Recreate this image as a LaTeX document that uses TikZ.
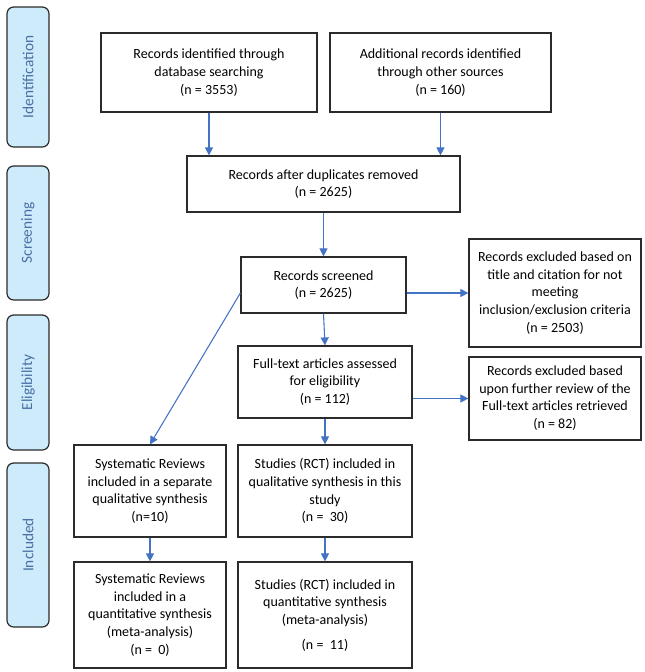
\documentclass[tikz,border=0pt]{standalone}
\usepackage{fontspec}
\setmainfont{Carlito}
\usetikzlibrary{arrows.meta}
\definecolor{arrowblue}{HTML}{4472C4}
\definecolor{sidefill}{HTML}{CDEBFB}
\definecolor{sidetext}{HTML}{4A6FA5}
\definecolor{boxline}{HTML}{2B2B2B}
\begin{document}
\begin{tikzpicture}[x=0.75pt,y=-0.75pt,
  box/.style 2 args={draw=boxline, line width=0.9pt, fill=white, align=center,
    inner sep=0pt, minimum width=#1*0.75pt, minimum height=#2*0.75pt,
    font=\fontsize{10.5}{13.3}\selectfont},
  side/.style={draw=boxline, line width=0.9pt, fill=sidefill, rounded corners=5pt,
    rotate=90, inner sep=0pt, minimum height=42*0.75pt, minimum width=#1*0.75pt,
    text=sidetext, font=\fontsize{11.5}{13}\selectfont},
  arr/.style={draw=arrowblue, line width=0.8pt, -{Triangle[length=6pt,width=6pt]}}]
\useasboundingbox (0,0) rectangle (644,672);

% side labels
\node[side=140] (sid) at (28,77) {Identification};
\node[side=134] (ssc) at (28,233) {Screening};
\node[side=135] (sel) at (28,382.5) {Eligibility};
\node[side=164] (sin) at (28,545) {Included};

% boxes
\node[box={216}{79}] (b1) at (209,72.5) {Records identified through\\database searching\\(n = 3553)};
\node[box={221}{79}] (b2) at (440.5,72.5) {Additional records identified\\through other sources\\(n = 160)};
\node[box={273}{56}] (b3) at (323.5,184) {Records after duplicates removed\\(n = 2625)};
\node[box={165}{56}] (scr) at (323.5,285) {Records screened\\(n = 2625)};
\node[box={172}{108}] (ex1) at (555,293) {Records excluded based on\\title and citation for not\\meeting\\inclusion/exclusion criteria\\(n = 2503)};
\node[box={174}{72}] (ft) at (325,382) {Full-text articles assessed\\for eligibility\\(n = 112)};
\node[box={172}{83}] (ex2) at (555,398.5) {\raisebox{-4pt}{\begin{tabular}{@{}c@{}}Records excluded based\\upon further review of the\\Full-text articles retrieved\\(n = 82)\end{tabular}}};
\node[box={152}{92}] (sr1) at (150,491) {Systematic Reviews\\included in a separate\\qualitative synthesis\\(n=10)};
\node[box={174}{92}] (st1) at (325,491) {Studies (RCT) included in\\qualitative synthesis in this\\study\\(n =\ \ 30)};
\node[box={152}{106}] (sr2) at (150,615) {Systematic Reviews\\included in a\\quantitative synthesis\\(meta-analysis)\\(n =\ \ 0)};
\node[box={174}{106}] (st2) at (325,615) {Studies (RCT) included in\\quantitative synthesis\\(meta-analysis)\\[5pt](n =\ \ 11)};

% connectors
\draw[arr] (b1.south) -- (b1.south |- b3.north);
\draw[arr] (b2.south) -- (b2.south |- b3.north);
\draw[arr] (b3.south) -- (scr.north);
\draw[arr] (scr.east |- ex1.west) -- (ex1.west);
\draw[arr] (scr.south) -- (ft.north);
\draw[arr] (ft.east |- ex2.west) -- (ex2.west);
\draw[arr] ([yshift=-6pt]scr.west) -- (sr1.north);
\draw[arr] (ft.south) -- (st1.north);
\draw[arr] (sr1.south) -- (sr2.north);
\draw[arr] (st1.south) -- (st2.north);
\end{tikzpicture}
\end{document}
